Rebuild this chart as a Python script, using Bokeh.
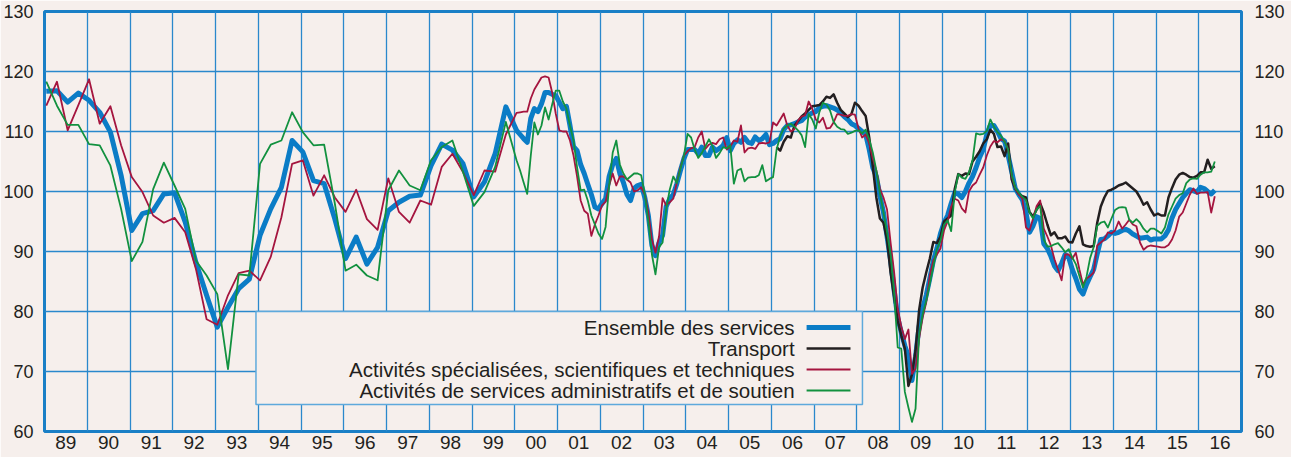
from bokeh.plotting import figure
from bokeh.models import FixedTicker, LinearAxis, CustomJSTickFormatter, Range1d
from bokeh.core.properties import value
from bokeh.embed import file_html
from bokeh.resources import INLINE

# ---------------- data ----------------
# Quarterly values 1989Q1 .. 1999Q4
ensemble_q = [
    116.7, 116.8, 114.9, 116.4,
    115.2, 113.2, 109.9, 102.7,
    93.5, 96.3, 96.8, 99.6,
    99.8, 94.9, 88.2, 82.7,
    77.4, 80.7, 83.8, 85.4,
    92.7, 97.1, 100.7, 108.5,
    106.6, 101.8, 101.3, 95.4,
    88.8, 92.4, 87.9, 90.7,
    96.8, 98.2, 99.2, 99.4,
    104.3, 107.9, 106.9, 104.6,
    99.1, 101.6, 106.3, 114.1]
specialisees_q = [
    114.3, 118.3, 110.2, 114.4,
    118.7, 111.3, 114.2, 107.7,
    102.4, 99.9, 96.0, 94.8,
    95.6, 93.2, 87.1, 78.7,
    77.8, 82.7, 86.4, 86.8,
    85.2, 89.1, 95.7, 104.6,
    105.2, 99.3, 102.7, 99.0,
    96.6, 100.3, 95.4, 93.6,
    102.2, 96.6, 94.8, 98.5,
    97.8, 104.1, 106.3, 103.2,
    99.4, 103.5, 103.3, 109.5]
administratifs_q = [
    118.3, 114.3, 111.1, 111.1,
    107.9, 107.7, 104.3, 97.1,
    88.4, 91.6, 100.4, 104.8,
    101.0, 97.1, 88.5, 86.0,
    82.9, 70.4, 86.2, 86.0,
    104.6, 107.8, 108.5, 113.2,
    109.9, 107.7, 107.8, 98.0,
    86.8, 87.8, 86.0, 85.2,
    100.2, 103.5, 101.0, 100.2,
    105.2, 107.4, 108.5, 103.2,
    97.6, 99.9, 104.1, 111.6]

# Monthly values 2000-01 .. 2016-05
ensemble_m = [
    110.2, 109.5, 108.8, 108.2, 112.2, 113.8, 113.3, 114.6, 116.5, 116.5, 116.2, 116.0,
    114.9, 113.8, 114.2, 111.0, 107.5, 106.8, 104.5, 103.0, 101.2, 99.5, 97.4, 97.1,
    98.0, 98.8, 102.5, 104.5, 105.5, 103.0, 101.5, 99.5, 98.5, 100.5, 101.0, 101.2,
    99.0, 96.0, 91.0, 89.3, 91.5, 92.7, 97.5, 98.8, 99.5, 101.3, 103.5, 105.5,
    107.0, 107.0, 107.0, 106.3, 107.4, 106.0, 106.0, 107.4, 106.8, 107.2, 107.7, 109.0,
    106.8, 108.0, 108.6, 108.2, 109.0, 108.2, 108.0, 109.1, 108.5, 108.8, 109.5, 107.8,
    108.0, 108.5, 108.8, 110.3, 111.0, 111.1, 111.3, 111.6, 111.8, 112.4, 112.8, 113.1,
    113.3, 114.0, 114.2, 114.3, 114.1, 113.9, 113.6, 113.1, 112.5, 112.0, 111.3, 111.0,
    110.5, 110.0, 109.5, 107.0, 104.0, 102.5, 99.3, 96.5, 92.5, 88.5, 83.5, 79.0,
    76.5, 74.3, 72.5, 68.5, 72.5, 77.5, 80.5, 82.7, 85.5, 88.5, 90.5, 93.0,
    94.8, 96.0, 98.0, 99.8, 99.6, 99.0, 100.0, 101.4, 102.5, 104.0, 105.7, 107.0,
    109.5, 111.0, 111.0, 110.0, 108.8, 108.4, 106.0, 103.3, 100.5, 99.5, 98.6, 96.5,
    93.2, 94.3, 95.8, 95.5, 91.3, 90.5, 89.2, 87.6, 86.8, 88.0, 89.5, 89.0,
    87.0, 85.5, 83.7, 82.9, 84.5, 85.8, 87.0, 89.6, 92.0, 92.1, 92.6, 93.2,
    93.0, 93.2, 93.5, 93.7, 93.4, 92.9, 92.6, 92.2, 92.3, 92.4, 91.9, 92.1,
    92.1, 92.1, 92.6, 93.6, 95.6, 97.0, 98.0, 99.0, 99.7, 100.3, 100.1, 99.9,
    100.7, 100.5, 100.0, 99.6, 100.2]
specialisees_m = [
    113.1, 113.2, 113.3, 113.3, 115.5, 117.0, 118.0, 119.0, 119.2, 119.0, 116.5, 113.0,
    110.2, 110.0, 110.0, 108.5, 106.0, 102.5, 98.5, 96.8, 96.3, 92.6, 94.5, 96.0,
    97.7, 98.3, 101.0, 103.0, 101.0, 102.5, 102.5, 102.0, 101.5, 100.0, 100.2, 100.7,
    99.5, 96.5, 92.0, 89.8, 92.5, 98.9, 97.7, 98.2, 98.8, 101.5, 104.0, 106.0,
    106.7, 107.2, 107.4, 109.0, 110.0, 107.1, 107.8, 108.1, 107.9, 108.7, 109.0, 107.0,
    107.5, 108.5, 108.3, 111.0, 106.5, 107.2, 107.3, 107.1, 108.0, 108.1, 108.0, 108.2,
    111.5, 111.0, 112.0, 113.0, 111.0, 110.0, 110.4, 111.8, 112.5, 112.7, 115.0, 113.8,
    112.0, 111.5, 112.3, 110.5, 110.6, 111.5, 112.9, 112.8, 112.6, 112.6, 112.9, 112.8,
    110.5, 109.0, 109.5, 108.0, 105.5, 103.5, 100.5, 99.0, 97.0, 91.5, 86.5, 80.5,
    77.5, 75.4, 77.0, 69.6, 70.5, 75.5, 79.0, 81.5, 86.0, 88.5, 89.5, 90.5,
    93.5, 95.0, 97.5, 98.8, 98.5, 97.2, 96.5, 100.0, 101.0, 101.5, 102.8, 104.0,
    106.0, 107.5, 108.4, 108.2, 108.7, 108.4, 107.0, 102.5, 100.5, 99.5, 98.8, 94.0,
    93.5, 95.5, 97.6, 98.5, 93.8, 92.5, 91.0, 88.7, 87.0, 85.2, 89.5, 89.5,
    88.8, 89.8, 87.0, 84.5, 85.5, 85.9, 86.5, 91.0, 91.5, 92.0, 93.2, 93.0,
    93.5, 95.0, 93.8, 94.5, 95.3, 94.5, 94.2, 91.5, 90.3, 90.8, 91.0, 90.9,
    90.8, 90.7, 90.7, 91.1, 92.0, 93.5, 95.8, 96.5, 98.0, 99.5, 100.5, 99.6,
    99.8, 99.8, 99.9, 96.5, 99.2]
administratifs_m = [
    105.2, 103.5, 101.5, 99.6, 106.0, 111.5, 109.5, 111.0, 114.0, 112.0, 114.5, 116.8,
    116.8, 115.0, 113.8, 111.0, 108.5, 104.0, 100.2, 100.3, 98.5, 96.0, 94.5, 93.0,
    92.1, 94.1, 101.0, 106.5, 108.5, 104.5, 103.0, 102.0, 102.5, 103.0, 103.0, 102.7,
    99.5, 95.0, 89.5, 86.2, 90.7, 91.5, 97.0, 100.3, 102.5, 101.4, 103.8, 106.0,
    109.6, 109.0, 107.0, 105.6, 106.4, 107.5, 108.7, 107.6, 105.6, 106.4, 107.4, 107.2,
    107.7, 101.3, 103.5, 103.8, 101.7, 102.3, 102.4, 102.4, 102.7, 104.4, 101.7, 102.1,
    102.4, 107.0, 109.2, 110.5, 111.0, 111.3, 110.8, 110.2, 109.4, 107.4, 112.9, 112.0,
    110.5, 113.2, 114.8, 114.5, 113.5, 111.6, 110.8, 110.4, 110.3, 109.6, 109.8, 110.1,
    110.2, 109.7, 110.3, 108.7, 106.5, 103.5, 99.8, 96.5, 93.2, 89.5, 83.0, 74.0,
    73.8, 66.6, 64.0, 61.6, 63.8, 76.0, 79.5, 81.8, 84.6, 87.5, 90.4, 91.8,
    94.5, 95.2, 93.4, 99.8, 102.9, 102.3, 102.1, 103.2, 105.2, 109.7, 109.5, 109.6,
    110.1, 112.0, 110.8, 109.9, 109.3, 108.3, 107.0, 102.8, 100.6, 99.8, 99.1, 98.6,
    96.5, 95.5, 97.0, 97.6, 92.0, 90.8, 90.9, 91.2, 91.4, 90.7, 89.9, 90.4,
    89.0, 87.9, 85.9, 84.0, 85.8, 88.9, 90.7, 94.3, 94.8, 95.0, 94.0, 95.5,
    96.9, 97.3, 97.4, 97.3, 95.3, 94.8, 95.4, 94.8, 93.8, 93.2, 93.8, 93.8,
    93.4, 93.0, 94.0, 96.2, 97.5, 98.8, 99.4, 99.7, 101.4, 102.0, 102.2, 102.1,
    102.8, 103.2, 103.2, 103.3, 105.0]
# Transport: monthly 2006-02 .. 2016-05
transport_m = [
    107.4, 106.8, 108.3, 109.2, 109.0, 111.0, 111.7, 112.5, 113.0, 113.6, 114.2,
    114.3, 114.4, 115.0, 115.8, 115.6, 116.2, 114.8, 113.6, 113.0, 112.4, 112.9, 114.8,
    114.3, 113.4, 112.6, 109.0, 104.2, 99.0, 95.5, 94.8, 92.0, 86.5, 82.4, 78.5,
    76.0, 73.8, 67.6, 69.5, 73.5, 80.2, 84.0, 86.5, 88.8, 91.6, 91.4, 92.5,
    95.0, 95.5, 96.0, 100.4, 102.9, 102.6, 103.0, 102.9, 105.0, 105.8, 106.7, 108.0,
    108.7, 110.3, 109.6, 107.4, 107.5, 105.9, 108.0, 102.0, 100.5, 99.6, 99.2, 99.0,
    96.6, 95.8, 97.0, 98.0, 96.5, 94.5, 92.7, 93.2, 92.2, 92.2, 92.5, 91.6,
    91.5, 93.0, 94.2, 91.2, 90.9, 90.8, 90.9, 94.8, 97.5, 99.0, 100.1, 100.3,
    100.6, 101.0, 101.2, 101.5, 101.0, 100.5, 100.0, 99.0, 97.8, 98.2, 97.0, 96.0,
    96.3, 96.0, 96.0, 99.0, 100.6, 102.0, 102.8, 103.1, 102.8, 102.4, 102.3, 102.6,
    103.2, 103.2, 105.3, 103.8, 104.2]

years = list(range(1989, 2017))
value_ticks = [60, 70, 80, 90, 100, 110, 120, 130]
series_names = ["Ensemble des services", "Transport",
                "Activités spécialisées, scientifiques et techniques",
                "Activités de services administratifs et de soutien"]

# ---------------- styles ----------------
BG = "#f6efec"
GRID = "#2a88cc"
BORDER = "#1a7fc6"
TXT = "#231f20"
C_ENS = "#0b7cc6"
C_TRA = "#231f20"
C_SPE = "#a5153f"
C_ADM = "#12913f"
FONT = "Liberation Sans"


def quarterly_x(first_year, n):
    return [first_year + i * 0.25 + 1 / 24 for i in range(n)]


def monthly_x(first_year, first_month, n):
    return [first_year + (first_month - 1 + i) / 12 + 1 / 24 for i in range(n)]


X0, X1, Y0, Y1 = 1989, 2017, 60, 130
p = figure(width=1291, height=457, x_range=Range1d(X0, X1), y_range=Range1d(Y0, Y1),
           output_backend="svg", toolbar_location=None,
           min_border_left=41, min_border_right=50, min_border_top=11, min_border_bottom=26,
           background_fill_color=BG, border_fill_color=BG,
           outline_line_color=BORDER, outline_line_width=3)

# reference pixel geometry of the frame -> data space helpers (legend placement)
FL, FT, FW, FH = 49, 19, 1200, 420


def xd(px):
    return X0 + (px - FL) / FW * (X1 - X0)


def yd(py):
    return Y1 - (py - FT) / FH * (Y1 - Y0)


# axes
p.xaxis.ticker = FixedTicker(ticks=[y + 0.5 for y in years])
p.xaxis.formatter = CustomJSTickFormatter(code="return String(Math.floor(tick)).slice(-2);")
p.yaxis.ticker = FixedTicker(ticks=value_ticks)
right_axis = LinearAxis(ticker=FixedTicker(ticks=value_ticks))
p.add_layout(right_axis, "right")
for ax in [p.xaxis[0], p.yaxis[0], right_axis]:
    ax.axis_line_color = None
    ax.major_tick_line_color = None
    ax.minor_tick_line_color = None
    ax.major_tick_out = 0
    ax.major_tick_in = 0
    ax.major_label_text_font = FONT
    ax.major_label_text_font_size = "18px"
    ax.major_label_text_color = TXT
p.xaxis.major_label_text_font_size = "19px"
p.xaxis.major_label_standoff = 4
p.yaxis.major_label_standoff = 11
right_axis.major_label_standoff = 13

# grids
p.xgrid.ticker = FixedTicker(ticks=list(range(1989, 2018)))
p.ygrid.ticker = FixedTicker(ticks=value_ticks)
for g in [p.xgrid[0], p.ygrid[0]]:
    g.grid_line_color = GRID
    g.grid_line_width = 1.3

# series
ens_x = quarterly_x(1989, len(ensemble_q)) + monthly_x(2000, 1, len(ensemble_m))
p.line(ens_x, ensemble_q + ensemble_m, line_color=C_ENS, line_width=5, line_join="round")
p.line(monthly_x(2006, 2, len(transport_m)), transport_m, line_color=C_TRA, line_width=2.5,
       line_join="round")
p.line(ens_x, specialisees_q + specialisees_m, line_color=C_SPE, line_width=1.8, line_join="round")
p.line(ens_x, administratifs_q + administratifs_m, line_color=C_ADM, line_width=1.8,
       line_join="round")

# legend
p.quad(left=[xd(261)], right=[xd(869)], top=[yd(319)], bottom=[yd(412)],
       fill_color=BG, line_color="#5ea9dc", line_width=1.5)
rows = [335, 356, 377, 398]
colors = [C_ENS, C_TRA, C_SPE, C_ADM]
widths = [5, 2.5, 1.8, 1.8]
for r, c, w in zip(rows, colors, widths):
    p.segment(x0=[xd(813)], y0=[yd(r)], x1=[xd(857)], y1=[yd(r)], line_color=c, line_width=w)
p.text(x=[xd(801)] * 4, y=[yd(r) for r in rows], text=series_names,
       text_font=value(FONT), text_font_size=value("20.5px"), text_color=TXT,
       text_align="right", text_baseline="middle")

html = file_html(p, INLINE)
html = html.replace("<body>", '<body style="background-color:%s;">' % BG, 1)
open("out.html", "w").write(html)
